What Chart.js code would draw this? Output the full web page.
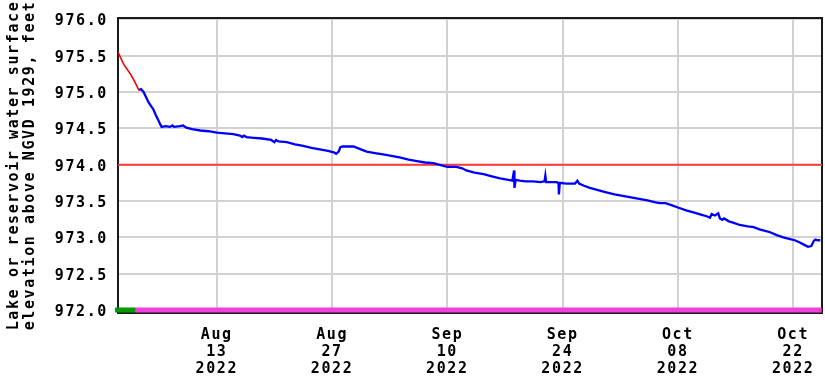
<!DOCTYPE html>
<html>
<head>
<meta charset="utf-8">
<script src="https://cdn.jsdelivr.net/npm/chart.js@4/dist/chart.umd.min.js"></script>
<style>html,body{margin:0;padding:0;background:#fff}</style>
</head>
<body>
<canvas id="c" width="825" height="380"></canvas>
<script>
// Time axis is in days counted from 2022-08-01 00:00.
const approvedDays = [0, 0.2, 0.45, 0.7, 1.0, 1.3, 1.6, 2.0, 2.3, 2.55];
const approvedElev = [975.55, 975.50, 975.44, 975.38, 975.33, 975.28, 975.23, 975.15, 975.08, 975.02];

const provisionalDays = [
  2.55, 2.8, 3.1, 3.4, 3.7, 4.0, 4.3, 4.6, 4.9, 5.15, 5.3, 5.8, 6.3, 6.6, 6.8, 7.5, 7.9, 8.3,
  9.0, 10.0, 11.0, 12.0, 13.0, 14.0, 14.8, 15.1, 15.3, 15.6, 16.5, 17.5, 18.6, 19.0, 19.2, 19.5,
  20.5, 21.5, 22.5, 23.5, 24.5, 25.5, 26.2, 26.5, 26.8, 27.0, 27.3, 28.6, 29.5, 30.2, 31.2, 32.2,
  33.2, 34.2, 35.3, 36.3, 37.3, 38.3, 39.3, 40.0, 41.1, 41.8, 42.3, 43.3, 44.4, 45.4, 46.4, 47.4,
  47.9, 48.1, 48.15, 48.3, 48.8, 49.5, 50.4, 51.3, 51.8, 51.9, 52.0, 52.6, 53.3, 53.5, 53.55, 53.65,
  54.5, 55.5, 55.8, 56.0, 56.6, 57.3, 58.3, 59.3, 60.3, 61.3, 62.3, 63.3, 64.3, 65.3, 65.8, 66.5,
  67.3, 68.0, 69.0, 70.0, 70.9, 71.5, 71.9, 72.1, 72.5, 72.9, 73.1, 73.4, 73.6, 74.2, 74.8, 75.5,
  76.5, 77.2, 77.9, 78.6, 79.2, 80.0, 80.8, 81.5, 82.2, 82.8, 83.3, 83.8, 84.2, 84.5, 84.7, 85.0, 85.3
];
const provisionalElev = [
  975.03, 975.04, 975.00, 974.93, 974.86, 974.81, 974.76, 974.68, 974.61, 974.55, 974.52, 974.53, 974.52, 974.54, 974.52, 974.53, 974.54, 974.51,
  974.49, 974.47, 974.46, 974.44, 974.43, 974.42, 974.40, 974.38, 974.40, 974.38, 974.37, 974.36, 974.34, 974.31, 974.34, 974.32,
  974.31, 974.28, 974.26, 974.23, 974.21, 974.19, 974.17, 974.15, 974.18, 974.24, 974.25, 974.25, 974.21, 974.18, 974.16, 974.14,
  974.12, 974.10, 974.07, 974.05, 974.03, 974.02, 973.99, 973.97, 973.97, 973.95, 973.92, 973.89, 973.87, 973.84, 973.81, 973.79,
  973.78, 973.92, 973.68, 973.79, 973.78, 973.77, 973.77, 973.76, 973.77, 973.85, 973.76, 973.76, 973.76, 973.74, 973.59, 973.75,
  973.74, 973.74, 973.78, 973.74, 973.71, 973.68, 973.65, 973.62, 973.59, 973.57, 973.55, 973.53, 973.51, 973.48, 973.47, 973.47,
  973.44, 973.41, 973.37, 973.34, 973.31, 973.29, 973.27, 973.32, 973.30, 973.33, 973.26, 973.24, 973.26, 973.22, 973.20, 973.17,
  973.15, 973.14, 973.11, 973.09, 973.07, 973.03, 973.00, 972.98, 972.96, 972.93, 972.90, 972.87, 972.88, 972.95, 972.97, 972.96, 972.96
];

const referenceLevel = 974.0;
const bandLevel = 972.0;
const approvedPeriod = [-0.36, 2.15];
const provisionalPeriod = [2.15, 85.45];

const xRange = [0, 85.5];
const yRange = [971.959, 976.018];
const yTickValues = [972.0, 972.5, 973.0, 973.5, 974.0, 974.5, 975.0, 975.5, 976.0];
const xTickDays = [12, 26, 40, 54, 68, 82];
const xTickLabels = [
  ['Aug', '13', '2022'], ['Aug', '27', '2022'], ['Sep', '10', '2022'],
  ['Sep', '24', '2022'], ['Oct', '08', '2022'], ['Oct', '22', '2022']
];
const yTitle = ['Lake or reservoir water surface', 'elevation above NGVD 1929, feet'];

const toPoints = (xs, ys) => xs.map((x, i) => ({ x, y: ys[i] }));
const levelLine = (range, level) => range.map(x => ({ x, y: level }));

const monoFont = { family: "'DejaVu Sans Mono', monospace", size: 15, weight: 'bold' };

// Wider letter spacing for the bitmap-like axis text.
const spacing = {
  id: 'spacing',
  beforeLayout(chart) { chart.ctx.letterSpacing = '1.6px'; },
  beforeDraw(chart) { chart.ctx.letterSpacing = '1.6px'; }
};

// Black frame around the plotting area.
const frame = {
  id: 'frame',
  beforeDatasetsDraw(chart) {
    const { ctx, chartArea: a } = chart;
    ctx.save();
    ctx.strokeStyle = '#1a1a1a';
    ctx.lineWidth = 2;
    ctx.strokeRect(a.left, a.top, a.right - a.left, a.bottom - a.top);
    ctx.restore();
  }
};

new Chart(document.getElementById('c'), {
  type: 'line',
  data: {
    datasets: [
      { data: levelLine(xRange, referenceLevel), borderColor: '#ff3838', borderWidth: 2, pointRadius: 0, order: 4 },
      { data: toPoints(approvedDays, approvedElev), borderColor: '#ff0000', borderWidth: 1.6, pointRadius: 0, order: 2 },
      { data: toPoints(provisionalDays, provisionalElev), borderColor: '#0000ff', borderWidth: 2.3, pointRadius: 0, order: 1 },
      { data: levelLine(approvedPeriod, bandLevel), borderColor: '#009a00', borderWidth: 5, borderCapStyle: 'butt', pointRadius: 0, clip: false, order: 0 },
      { data: levelLine(provisionalPeriod, bandLevel), borderColor: '#f23fe0', borderWidth: 5, borderCapStyle: 'butt', pointRadius: 0, clip: false, order: 0 }
    ]
  },
  options: {
    responsive: false,
    animation: false,
    events: [],
    layout: { padding: { top: 18, right: 3, left: 0, bottom: 0 } },
    plugins: { legend: { display: false }, tooltip: { enabled: false } },
    scales: {
      x: {
        type: 'linear',
        min: xRange[0],
        max: xRange[1],
        afterBuildTicks: s => { s.ticks = xTickDays.map(v => ({ value: v })); },
        afterFit: s => { s.height = 67; s.paddingLeft = 0; s.paddingRight = 0; },
        ticks: {
          autoSkip: false,
          maxRotation: 0,
          padding: 14,
          color: '#000',
          font: { ...monoFont, lineHeight: 17 / 15 },
          callback: v => xTickLabels[xTickDays.indexOf(v)]
        },
        grid: { color: '#d2d2d2', lineWidth: 2, drawTicks: false },
        border: { display: false }
      },
      y: {
        type: 'linear',
        min: yRange[0],
        max: yRange[1],
        afterBuildTicks: s => { s.ticks = yTickValues.map(v => ({ value: v })); },
        afterFit: s => { s.width = 118; s.paddingTop = 0; s.paddingBottom = 0; },
        ticks: {
          padding: 10,
          labelOffset: 2,
          color: '#000',
          font: monoFont,
          callback: v => Number(v).toFixed(1)
        },
        grid: { color: '#d2d2d2', lineWidth: 2, drawTicks: false },
        border: { display: false },
        title: {
          display: true,
          text: yTitle,
          color: '#000',
          font: { ...monoFont, lineHeight: 16 / 15 },
          padding: { top: 6, bottom: 0 }
        }
      }
    }
  },
  plugins: [spacing, frame]
});
</script>
</body>
</html>
